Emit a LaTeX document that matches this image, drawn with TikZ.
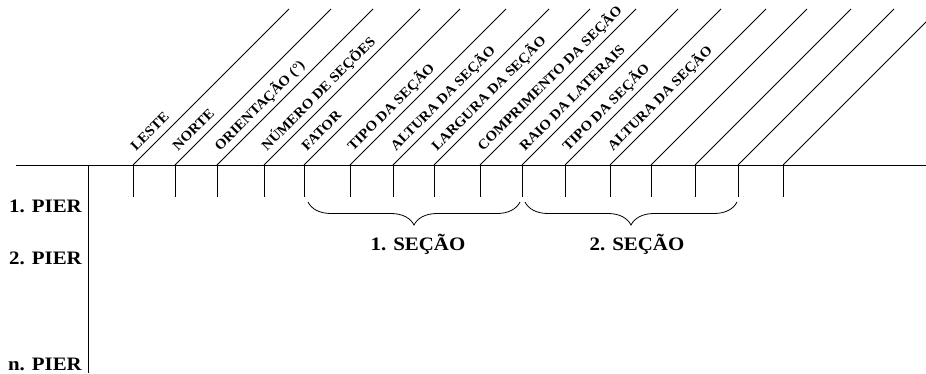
\documentclass[tikz,border=0pt]{standalone}
\usepackage{fontspec}
\setmainfont{Liberation Serif}
\newfontfamily\widefont{Liberation Serif}[FakeStretch=1.1]
\newfontfamily\headfont{Liberation Serif}[FakeStretch=1.06]
\usetikzlibrary{decorations.pathreplacing}

\begin{document}
\begin{tikzpicture}[x=1pt,y=-1pt,
  rule/.style={line width=0.8pt},
  colhead/.style={rotate=45, anchor=base west, inner sep=0pt,
    font=\headfont\bfseries\fontsize{14}{16}\selectfont},
  rowlabel/.style={anchor=base east, inner sep=0pt,
    font=\widefont\bfseries\fontsize{19}{21}\selectfont},
  grouplabel/.style={anchor=base, inner sep=0pt,
    font=\widefont\bfseries\fontsize{19}{21}\selectfont},
  groupbrace/.style={decorate, decoration={brace, mirror, amplitude=23pt},
    line width=0.8pt}]

\useasboundingbox (0,0) rectangle (926,373);
\clip (0,0) rectangle (926,373);

% table frame: header rule and left rule
\coordinate (hl) at (16,165);
\coordinate (hr) at (926,165);
\coordinate (vt) at (88,165);
\coordinate (vb) at (88,373);
\draw[rule] (hl) -- (hr);
\draw[rule] (vt) -- (vb);

% column ticks with their slanted header lines
\foreach \x [count=\i] in {133,175,217,264,304,350,393,434,480,522,565,610,651,695,738,783} {
  \coordinate (t\i) at (\x,165);
  \coordinate (b\i) at (\x,197);
  \coordinate (d\i) at (\x+156,9);
  \draw[rule] (t\i) -- (b\i);
  \draw[rule] (t\i) -- (d\i);
}

% column headings
\foreach \i/\txt in {1/LESTE, 2/NORTE, 3/{ORIENTAÇÃO (°)}, 4/{NÚMERO DE SEÇÕES},
    5/FATOR, 6/{TIPO DA SEÇÃO}, 7/{ALTURA DA SEÇÃO}, 8/{LARGURA DA SEÇÃO},
    9/{COMPRIMENTO DA SEÇÃO}, 10/{RAIO DA LATERAIS}, 11/{TIPO DA SEÇÃO},
    12/{ALTURA DA SEÇÃO}} {
  \node[colhead] (h\i) at ([xshift=3pt,yshift=13.5pt]t\i) {\txt};
}

% row labels
\node[rowlabel] (p1) at (82,212) {1. PIER};
\node[rowlabel] (p2) at (82,264) {2. PIER};
\node[rowlabel] (pn) at (82,370.5) {n. PIER};

% section groups
\coordinate (s1a) at (308,202);
\coordinate (s1b) at (520,202);
\coordinate (s2a) at (525,202);
\coordinate (s2b) at (737,202);
\draw[groupbrace] (s1a) -- (s1b);
\draw[groupbrace] (s2a) -- (s2b);
\node[grouplabel] (g1) at (418,250) {1. SEÇÃO};
\node[grouplabel] (g2) at (637,250) {2. SEÇÃO};

\end{tikzpicture}
\end{document}
